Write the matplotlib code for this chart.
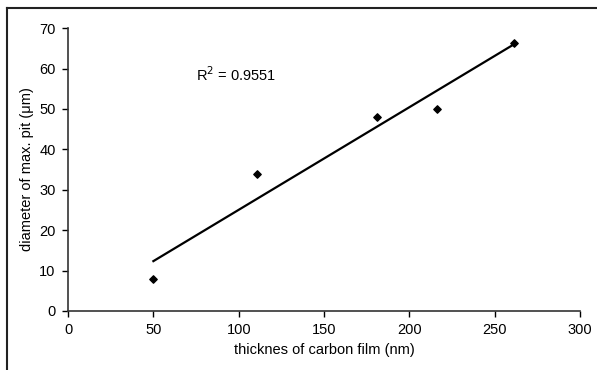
import numpy as np
import matplotlib
matplotlib.use('Agg')
import matplotlib.pyplot as plt
from matplotlib.lines import Line2D

plt.rcParams['font.family'] = ['Liberation Sans', 'DejaVu Sans']

# datos
thickness = [50, 111, 181, 216, 261.5]
diameter = [8, 34, 48, 50, 66.3]
x_ticks = [0, 50, 100, 150, 200, 250, 300]
y_ticks = [0, 10, 20, 30, 40, 50, 60, 70]

fig = plt.figure(figsize=(5.97, 3.70), dpi=100)
ax = fig.add_axes([0.114, 0.1595, 0.8575, 0.7645])

# linea de tendencia
m, b = np.polyfit(thickness, diameter, 1)
xs = np.array([min(thickness), max(thickness)])
ax.plot(xs, m * xs + b, color='black', lw=1.6)

ax.scatter(thickness, diameter, marker='D', s=14, color='black', zorder=3)

ax.text(75, 58.4, 'R$^2$ = 0.9551', fontsize=10.5, va='center', ha='left')

ax.set_xlim(0, 300)
ax.set_ylim(0, 70)
ax.set_xticks(x_ticks)
ax.set_yticks(y_ticks)
ax.tick_params(labelsize=10.5, direction='out', length=4, width=1, pad=5)
ax.spines['top'].set_visible(False)
ax.spines['right'].set_visible(False)
ax.spines['left'].set_linewidth(1.2)
ax.spines['bottom'].set_linewidth(1.2)
ax.spines['left'].set_color('#333333')
ax.spines['bottom'].set_color('#333333')

ax.set_xlabel('thicknes of carbon film (nm)', fontsize=10.5)
ax.set_ylabel('diameter of max. pit (\u03bcm)', fontsize=10.5)

# marco exterior (solo arriba e izquierda)
fig.add_artist(Line2D([0.012, 1.0], [0.978, 0.978], transform=fig.transFigure, color='#222222', lw=1.5))
fig.add_artist(Line2D([0.012, 0.012], [0.0, 0.978], transform=fig.transFigure, color='#222222', lw=1.5))

fig.savefig('out.png', dpi=100)
